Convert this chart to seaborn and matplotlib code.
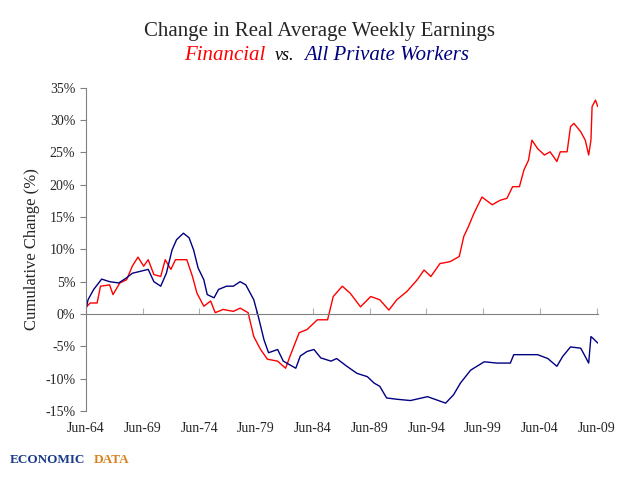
import matplotlib
matplotlib.use("Agg")
import matplotlib.pyplot as plt
import seaborn as sns

# decimal years and cumulative change (%)
fin_years = [1964.5, 1964.9, 1965.5, 1965.8, 1966.6, 1966.9, 1967.5, 1968.1, 1968.6, 1969.1,
             1969.6, 1970.0, 1970.5, 1971.1, 1971.5, 1972.0, 1972.4, 1973.4, 1973.9, 1974.3,
             1974.9, 1975.5, 1975.9, 1976.6, 1977.5, 1978.1, 1978.8, 1979.3, 1979.9, 1980.5,
             1981.4, 1982.1, 1982.5, 1983.3, 1984.0, 1984.9, 1985.8, 1986.3, 1987.1, 1987.8,
             1988.7, 1989.6, 1990.4, 1991.2, 1991.9, 1992.8, 1993.7, 1994.3, 1994.9, 1995.7,
             1996.6, 1997.4, 1997.8, 1998.2, 1998.7, 1999.4, 2000.3, 2001.0, 2001.6, 2002.1,
             2002.7, 2003.1, 2003.5, 2003.8, 2004.3, 2004.9, 2005.4, 2006.0, 2006.3, 2006.9,
             2007.2, 2007.5, 2008.1, 2008.5, 2008.8, 2009.0, 2009.1, 2009.4, 2009.6]
fin_vals = [1.0, 1.7, 1.7, 4.3, 4.5, 3.0, 4.8, 5.3, 7.4, 8.8,
            7.4, 8.4, 6.1, 5.8, 8.4, 6.9, 8.4, 8.4, 5.8, 3.2,
            1.2, 2.0, 0.2, 0.7, 0.4, 0.9, 0.2, -3.5, -5.5, -7.0,
            -7.3, -8.4, -6.5, -2.9, -2.4, -0.9, -0.9, 2.7, 4.3, 3.2,
            1.1, 2.7, 2.2, 0.6, 2.2, 3.5, 5.3, 6.8, 5.8, 7.8,
            8.1, 8.9, 12.0, 13.5, 15.6, 18.1, 16.9, 17.6, 17.9, 19.7,
            19.7, 22.3, 23.8, 26.9, 25.6, 24.6, 25.1, 23.6, 25.1, 25.1,
            29.0, 29.5, 28.2, 26.9, 24.6, 26.9, 32.1, 33.1, 32.1]

all_years = [1964.5, 1964.7, 1965.2, 1965.9, 1966.6, 1967.4, 1968.1, 1968.6, 1969.3, 1970.0,
             1970.5, 1971.1, 1971.6, 1972.1, 1972.5, 1973.1, 1973.6, 1974.0, 1974.4, 1974.9,
             1975.2, 1975.8, 1976.2, 1976.9, 1977.5, 1978.1, 1978.6, 1979.3, 1979.7, 1980.2,
             1980.6, 1981.4, 1981.9, 1982.4, 1983.0, 1983.4, 1984.0, 1984.6, 1985.2, 1986.1,
             1986.6, 1987.5, 1988.4, 1989.3, 1989.9, 1990.4, 1991.0, 1991.9, 1993.1, 1994.6,
             1995.4, 1996.2, 1996.9, 1997.5, 1998.4, 1999.6, 2000.7, 2001.9, 2002.2, 2003.4,
             2004.3, 2005.2, 2006.0, 2006.5, 2007.2, 2008.1, 2008.5, 2008.8, 2009.0, 2009.2,
             2009.6]
all_vals = [0.5, 2.2, 3.8, 5.4, 5.0, 4.8, 5.6, 6.3, 6.6, 6.9,
            5.0, 4.3, 6.3, 9.9, 11.5, 12.5, 11.8, 9.9, 7.1, 5.3,
            3.0, 2.5, 3.8, 4.3, 4.3, 5.0, 4.5, 2.2, -0.4, -4.0,
            -6.0, -5.5, -7.3, -7.8, -8.4, -6.5, -5.8, -5.5, -6.8, -7.3,
            -6.9, -8.1, -9.2, -9.7, -10.7, -11.2, -13.0, -13.2, -13.4, -12.8,
            -13.3, -13.8, -12.5, -10.7, -8.7, -7.4, -7.6, -7.6, -6.3, -6.3,
            -6.3, -6.9, -8.1, -6.6, -5.1, -5.3, -6.6, -7.6, -3.5, -3.8,
            -4.5]

tick_years = [1964.5 + 5 * i for i in range(10)]
tick_labels = ["Jun-64", "Jun-69", "Jun-74", "Jun-79", "Jun-84",
               "Jun-89", "Jun-94", "Jun-99", "Jun-04", "Jun-09"]

sns.set_style("white")
plt.rcParams["font.family"] = ["Liberation Serif", "DejaVu Serif"]

fig = plt.figure(figsize=(6.4, 4.8), dpi=100)
ax = fig.add_axes([0.134, 0.144, 0.8, 0.673])

sns.lineplot(x=fin_years, y=fin_vals, sort=False, color="red", linewidth=1, ax=ax)
sns.lineplot(x=all_years, y=all_vals, sort=False, color="#000080", linewidth=1, ax=ax)

ax.set_xlim(1964.5, 2009.6)
ax.set_ylim(-15, 35)
ax.set_yticks(range(-15, 36, 5))
ax.set_yticklabels([f"{v}%" for v in range(-15, 36, 5)], fontsize=10)
ax.tick_params(axis="y", direction="out", length=4, color="#808080", left=True)
ax.set_ylabel("Cumulative Change (%)", fontsize=12)

for s in ["top", "right"]:
    ax.spines[s].set_visible(False)
ax.spines["left"].set_color("#808080")
ax.spines["bottom"].set_position(("data", 0))
ax.spines["bottom"].set_color("#808080")
ax.set_xticks(tick_years)
ax.set_xticklabels([])
ax.tick_params(axis="x", direction="in", length=4, color="#b0b0b0", bottom=True)

sec = ax.secondary_xaxis("bottom")
sec.set_xticks(tick_years)
sec.set_xticklabels(tick_labels, fontsize=10)
sec.spines["bottom"].set_visible(False)
sec.tick_params(length=0, pad=8)

fig.text(0.5, 0.925, "Change in Real Average Weekly Earnings", ha="center", fontsize=15)
fig.text(0.415, 0.875, "Financial", ha="right", fontsize=15, style="italic", color="red")
fig.text(0.43, 0.875, "vs.", ha="left", fontsize=13, style="italic", color="black")
fig.text(0.475, 0.875, "All Private Workers", ha="left", fontsize=15, style="italic", color="#000080")

fig.text(0.015, 0.035, "ECONOMIC", fontsize=9.5, weight="bold", color="#1a3a8a", family="Liberation Serif")
fig.text(0.146, 0.035, "DATA", fontsize=9.5, weight="bold", color="#d9821c", family="Liberation Serif")

fig.savefig("out.png", dpi=100)
